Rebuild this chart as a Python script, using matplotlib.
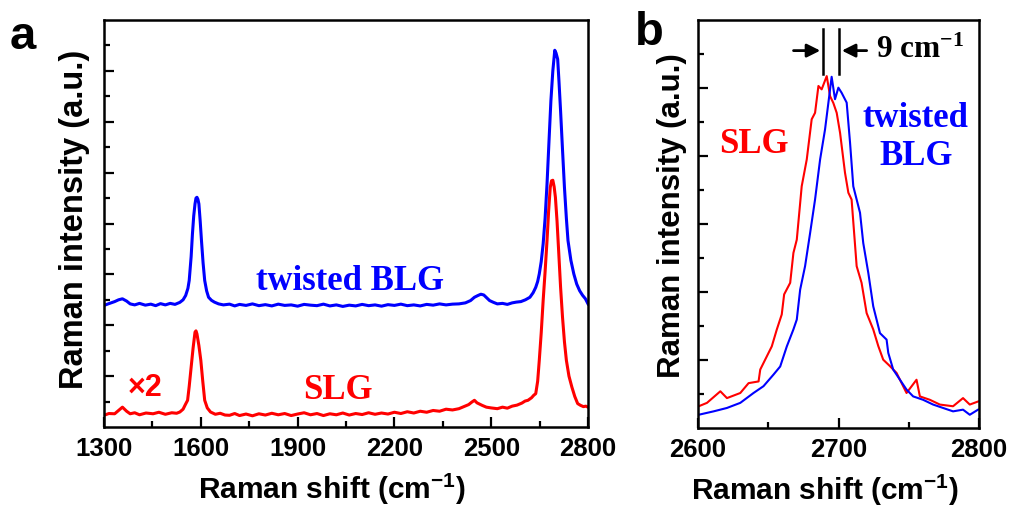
import matplotlib
matplotlib.use('Agg')
import matplotlib.pyplot as plt

plt.rcParams['font.family'] = 'Liberation Sans'
plt.rcParams['font.weight'] = 'bold'
plt.rcParams['axes.labelweight'] = 'bold'
plt.rcParams['mathtext.default'] = 'regular'

# panel a: full spectra (SLG multiplied by 2)
blg_x = [1300, 1315, 1333, 1345, 1357, 1370, 1381, 1395, 1410, 1428,
         1445, 1460, 1475, 1490, 1505, 1520, 1535, 1545, 1553, 1560,
         1564, 1570, 1574, 1578, 1582, 1585, 1588, 1591, 1594, 1598,
         1602, 1607, 1612, 1618, 1624, 1633, 1642, 1655, 1670, 1689,
         1705, 1720, 1740, 1760, 1780, 1800, 1820, 1840, 1860, 1880,
         1900, 1920, 1940, 1960, 1980, 2000, 2020, 2040, 2060, 2080,
         2100, 2120, 2140, 2160, 2180, 2200, 2220, 2240, 2260, 2280,
         2300, 2320, 2340, 2360, 2380, 2400, 2420, 2436, 2448, 2459,
         2468, 2477, 2486, 2495, 2507, 2519, 2535, 2550, 2565, 2578,
         2592, 2606, 2620, 2630, 2638, 2644, 2649, 2655, 2661, 2667,
         2673, 2679, 2685, 2691, 2697, 2701, 2706, 2710, 2715, 2721,
         2727, 2733, 2738, 2747, 2756, 2765, 2774, 2783, 2792, 2800]
blg_y = [3.78, 3.85, 3.93, 4.00, 4.04, 3.95, 3.84, 3.80, 3.86, 3.79,
         3.83, 3.77, 3.85, 3.80, 3.86, 3.82, 3.90, 4.00, 4.17, 4.45,
         4.76, 5.70, 6.59, 7.30, 7.77, 8.00, 8.03, 7.95, 7.77, 7.10,
         6.33, 5.45, 4.76, 4.35, 4.10, 3.98, 3.91, 3.84, 3.80, 3.83,
         3.76, 3.82, 3.78, 3.84, 3.77, 3.81, 3.76, 3.83, 3.78, 3.80,
         3.75, 3.82, 3.79, 3.77, 3.83, 3.76, 3.80, 3.74, 3.79, 3.76,
         3.82, 3.77, 3.80, 3.75, 3.81, 3.78, 3.83, 3.77, 3.80, 3.76,
         3.82, 3.79, 3.84, 3.80, 3.83, 3.84, 3.88, 3.97, 4.10, 4.17,
         4.22, 4.19, 4.08, 3.97, 3.90, 3.84, 3.86, 3.82, 3.88, 3.91,
         3.93, 4.00, 4.10, 4.28, 4.49, 4.72, 5.02, 5.50, 6.20, 7.20,
         8.55, 10.20, 11.82, 13.00, 13.81, 13.70, 13.46, 12.60, 11.43, 9.90,
         8.42, 7.20, 6.33, 5.55, 5.02, 4.62, 4.36, 4.18, 4.04, 3.84]

slg_x = [1300, 1315, 1333, 1345, 1357, 1370, 1381, 1395, 1410, 1430,
         1452, 1470, 1490, 1510, 1525, 1535, 1545, 1552, 1559, 1564,
         1570, 1576, 1582, 1585, 1588, 1594, 1600, 1606, 1612, 1620,
         1630, 1645, 1660, 1675, 1689, 1705, 1720, 1740, 1760, 1780,
         1800, 1820, 1840, 1860, 1880, 1900, 1920, 1940, 1960, 1980,
         2000, 2020, 2040, 2060, 2080, 2100, 2120, 2140, 2160, 2180,
         2200, 2220, 2240, 2260, 2280, 2300, 2320, 2340, 2360, 2380,
         2400, 2415, 2430, 2440, 2448, 2456, 2464, 2472, 2485, 2500,
         2519, 2535, 2550, 2565, 2580, 2595, 2605, 2614, 2625, 2632,
         2638, 2644, 2649, 2655, 2661, 2667, 2673, 2678, 2683, 2687,
         2691, 2695, 2699, 2704, 2709, 2715, 2721, 2727, 2733, 2741,
         2750, 2759, 2768, 2777, 2786, 2793, 2800]
slg_y = [-0.54, -0.47, -0.48, -0.35, -0.22, -0.38, -0.48, -0.44, -0.52, -0.45,
         -0.48, -0.42, -0.50, -0.44, -0.46, -0.41, -0.30, -0.12, 0.05, 0.60,
         1.35, 2.10, 2.73, 2.78, 2.66, 2.20, 1.62, 0.80, 0.05, -0.25,
         -0.41, -0.50, -0.46, -0.53, -0.54, -0.47, -0.55, -0.49, -0.56, -0.48,
         -0.53, -0.46, -0.52, -0.47, -0.55, -0.49, -0.44, -0.52, -0.47, -0.55,
         -0.48, -0.52, -0.45, -0.53, -0.47, -0.51, -0.44, -0.50, -0.45, -0.49,
         -0.42, -0.47, -0.40, -0.45, -0.38, -0.42, -0.35, -0.38, -0.30, -0.33,
         -0.28, -0.20, -0.12, -0.02, 0.05, -0.05, -0.10, -0.15, -0.22, -0.25,
         -0.28, -0.22, -0.26, -0.18, -0.14, -0.06, 0.02, 0.05, 0.15, 0.25,
         0.31, 0.80, 1.62, 2.70, 3.97, 5.10, 6.33, 7.50, 8.42, 8.68,
         8.70, 8.45, 8.03, 7.10, 5.93, 4.50, 3.32, 2.35, 1.62, 1.00,
         0.57, 0.20, -0.08, -0.15, -0.20, -0.18, -0.22]

# panel b: normalized 2D band
b_slg_x = [2600.5, 2606.4, 2615.9, 2620.6, 2630.1, 2636.0, 2643.1, 2644.3, 2649.0, 2652.5,
           2656.1, 2659.6, 2661.3, 2665.6, 2667.9, 2670.3, 2673.8, 2677.4, 2680.9, 2683.3,
           2685.7, 2688.0, 2691.6, 2694.0, 2696.3, 2698.7, 2701.1, 2704.6, 2707.0, 2709.3,
           2712.9, 2716.4, 2720.0, 2724.7, 2728.3, 2731.8, 2736.6, 2741.3, 2748.4, 2755.5,
           2757.9, 2765.0, 2772.1, 2781.5, 2788.6, 2793.4, 2799.3]
b_slg_y = [0.64, 0.74, 1.08, 0.88, 1.03, 1.32, 1.37, 1.72, 2.11, 2.40,
           2.90, 3.34, 3.93, 4.27, 5.15, 5.54, 7.11, 7.90, 9.08, 9.27,
           10.06, 9.96, 10.35, 9.76, 9.56, 9.27, 8.68, 7.51, 6.92, 6.72,
           4.76, 4.27, 3.38, 2.90, 2.41, 2.01, 1.82, 1.62, 1.03, 1.42,
           0.93, 0.83, 0.69, 0.64, 0.88, 0.69, 0.78]

b_blg_x = [2600.5, 2611.1, 2620.6, 2630.1, 2639.5, 2646.6, 2653.7, 2658.5, 2663.2, 2667.9,
           2670.3, 2672.7, 2676.2, 2679.8, 2683.3, 2686.9, 2690.4, 2692.8, 2695.1, 2697.5,
           2699.9, 2702.2, 2705.8, 2708.2, 2710.5, 2715.3, 2717.6, 2721.2, 2724.7, 2729.5,
           2734.2, 2735.4, 2738.9, 2743.7, 2748.4, 2753.1, 2760.2, 2767.3, 2774.4, 2781.5,
           2788.6, 2793.4, 2799.3]
b_blg_y = [0.39, 0.49, 0.59, 0.74, 1.03, 1.23, 1.57, 1.81, 2.40, 2.90,
           3.19, 4.07, 4.76, 5.74, 6.72, 7.90, 8.78, 9.57, 10.33, 9.67,
           10.01, 9.86, 9.57, 8.39, 7.11, 6.33, 5.44, 4.56, 3.58, 2.79,
           2.60, 2.21, 1.72, 1.42, 1.13, 0.93, 0.83, 0.69, 0.59, 0.49,
           0.54, 0.39, 0.54]

fig = plt.figure(figsize=(10.11, 5.09), dpi=100)
ax1 = fig.add_axes([0.1029, 0.1611, 0.4787, 0.7996])
ax2 = fig.add_axes([0.6904, 0.1591, 0.2780, 0.8016])

for ax in (ax1, ax2):
    for s in ax.spines.values():
        s.set_linewidth(1.8)
    ax.tick_params(which='both', direction='in', top=False, right=False,
                   width=1.6, labelsize=18.5, pad=7)
    ax.tick_params(which='major', length=7)
    ax.tick_params(which='minor', length=4)

# panel a
ax1.plot(slg_x, slg_y, color='#ff0000', lw=2.2)
ax1.plot(blg_x, blg_y, color='#0000ff', lw=2.2)
ax1.set_xlim(1300, 2800)
ax1.set_ylim(-1, 15)
ax1.set_xticks([1300, 1600, 1900, 2200, 2500, 2800])
ax1.set_xticks([1450, 1750, 2050, 2350, 2650], minor=True)
ax1.set_yticks([1, 3, 5, 7, 9, 11, 13])
ax1.set_yticks([0, 2, 4, 6, 8, 10, 12, 14], minor=True)
ax1.set_yticklabels([])
ax1.set_xlabel('Raman shift (cm$^{-1}$)', fontsize=21.5)
ax1.xaxis.set_label_coords(0.471, -0.11)
ax1.set_ylabel('Raman intensity (a.u.)', fontsize=23.5)
ax1.yaxis.set_label_coords(-0.029, 0.51)
ax1.text(2062, 4.73, 'twisted BLG', color='#0000ff', fontsize=25,
         family='Liberation Serif', weight='bold', ha='center', va='center')
ax1.text(2025, 0.45, 'SLG', color='#ff0000', fontsize=25,
         family='Liberation Serif', weight='bold', ha='center', va='center')
ax1.text(1427, 0.53, '×2', color='#ff0000', fontsize=22,
         weight='bold', ha='center', va='center')

# panel b
ax2.plot(b_slg_x, b_slg_y, color='#ff0000', lw=1.5)
ax2.plot(b_blg_x, b_blg_y, color='#0000ff', lw=1.5)
ax2.set_xlim(2600, 2800)
ax2.set_ylim(0, 12)
ax2.set_xticks([2600, 2700, 2800])
ax2.set_xticks([2650, 2750], minor=True)
ax2.set_yticks([2, 4, 6, 8, 10])
ax2.set_yticks([1, 3, 5, 7, 9, 11], minor=True)
ax2.set_yticklabels([])
ax2.set_xlabel('Raman shift (cm$^{-1}$)', fontsize=21.5)
ax2.xaxis.set_label_coords(0.452, -0.11)
ax2.set_ylabel('Raman intensity (a.u.)', fontsize=22.5)
ax2.yaxis.set_label_coords(-0.039, 0.52)
ax2.text(2640, 8.35, 'SLG', color='#ff0000', fontsize=25,
         family='Liberation Serif', weight='bold', ha='center', va='center')
ax2.text(2755, 8.54, 'twisted\nBLG', color='#0000ff', fontsize=25,
         family='Liberation Serif', weight='bold', ha='center', va='center',
         linespacing=1.2)
ax2.plot([2689, 2689], [10.4, 11.75], color='black', lw=1.8)
ax2.plot([2700.4, 2700.4], [10.4, 11.75], color='black', lw=1.8)
ax2.annotate('', xy=(2689, 11.1), xytext=(2666, 11.1),
             arrowprops=dict(arrowstyle='-|>', color='black', lw=2, mutation_scale=20))
ax2.annotate('', xy=(2700.4, 11.1), xytext=(2722, 11.1),
             arrowprops=dict(arrowstyle='-|>', color='black', lw=2, mutation_scale=20))
ax2.text(2727, 11.1, '9 cm$^{-1}$', color='black', fontsize=22.5,
         family='Liberation Serif', weight='bold', ha='left', va='center')

fig.text(0.010, 0.971, 'a', fontsize=34, ha='left', va='top')
fig.text(0.628, 0.979, 'b', fontsize=34, ha='left', va='top')

fig.savefig('out.png', dpi=100)
